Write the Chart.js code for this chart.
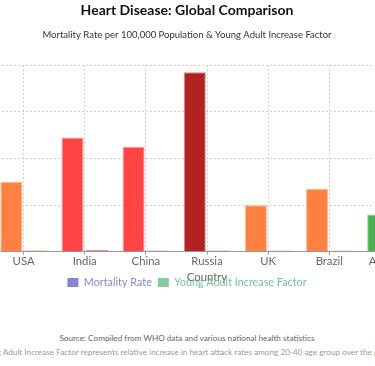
<!DOCTYPE html>
<html>
<head>
<meta charset="utf-8">
<script src="https://cdn.jsdelivr.net/npm/chart.js@4.4.1/dist/chart.umd.min.js"></script>
<style>
  html, body { margin: 0; padding: 0; background: #fff; width: 375px; height: 366px; overflow: hidden; }
  #wrap { position: absolute; left: -47px; top: 0; width: 468px; height: 366px; font-family: Lato, sans-serif; }
  #box { position: absolute; left: 0; top: 0; width: 468px; height: 298px; }
  .src { position: absolute; left: 0; width: 468px; text-align: center; font-size: 8.2px; line-height: 14px; white-space: nowrap; }
  #source { top: 331px; color: #666; }
  #note { top: 345px; color: #999; }
</style>
</head>
<body>
<div id="wrap">
  <div id="box"><canvas id="c"></canvas></div>
  <div class="src" id="source">Source: Compiled from WHO data and various national health statistics</div>
  <div class="src" id="note">Note: Young Adult Increase Factor represents relative increase in heart attack rates among 20-40 age group over the past decade</div>
</div>
<script>
// ---- data ----
const countries = ['USA', 'India', 'China', 'Russia', 'UK', 'Brazil', 'Australia'];
const mortalityRate = [150, 245, 225, 385, 100, 135, 80];
const youngAdultFactor = [3.2, 4.5, 3.0, 3.0, 2.8, 3.0, 2.6];
const yTicks = [0, 100, 200, 300, 400];

// ---- styles ----
function severityColor(v, alpha) {
  let rgb;
  if (v > 300) rgb = [178, 34, 34];
  else if (v > 200) rgb = [255, 68, 68];
  else if (v >= 100) rgb = [255, 128, 64];
  else rgb = [76, 175, 80];
  return `rgba(${rgb[0]},${rgb[1]},${rgb[2]},${alpha})`;
}
const FONT = 'Lato, sans-serif';

new Chart(document.getElementById('c'), {
  type: 'bar',
  data: {
    labels: countries,
    datasets: [
      {
        label: 'Mortality Rate',
        data: mortalityRate,
        backgroundColor: mortalityRate.map(v => severityColor(v, 1)),
        borderColor: mortalityRate.map(v => severityColor(v, 0.55)),
        borderWidth: 1
      },
      {
        label: 'Young Adult Increase Factor',
        data: youngAdultFactor,
        backgroundColor: mortalityRate.map(v => severityColor(v, 0.8)),
        borderColor: mortalityRate.map(v => severityColor(v, 0.7)),
        borderWidth: 1
      }
    ]
  },
  options: {
    responsive: true,
    maintainAspectRatio: false,
    animation: false,
    layout: { padding: 0 },
    plugins: {
      title: {
        display: true,
        text: 'Heart Disease: Global Comparison',
        color: '#111',
        font: { family: FONT, size: 14, weight: 'bold' },
        padding: { top: 2, bottom: 6 }
      },
      subtitle: {
        display: true,
        text: 'Mortality Rate per 100,000 Population & Young Adult Increase Factor',
        color: '#333',
        font: { family: FONT, size: 9.5 },
        padding: { top: 4, bottom: 25 }
      },
      legend: {
        position: 'bottom',
        labels: {
          font: { family: FONT, size: 10.8 },
          boxWidth: 11,
          boxHeight: 9,
          padding: 6,
          generateLabels: () => [
            { text: 'Mortality Rate', fillStyle: 'rgba(120,120,210,0.9)', strokeStyle: 'rgba(120,120,210,0.9)', lineWidth: 0, fontColor: 'rgba(120,120,215,0.9)', datasetIndex: 0 },
            { text: 'Young Adult Increase Factor', fillStyle: 'rgba(110,195,140,0.85)', strokeStyle: 'rgba(110,195,140,0.85)', lineWidth: 0, fontColor: 'rgba(100,190,135,0.9)', datasetIndex: 1 }
          ]
        }
      },
      tooltip: { enabled: false }
    },
    scales: {
      x: {
        grid: { offset: false, color: '#d0d0d0', tickLength: 3, tickColor: '#999', drawTicks: true },
        border: { color: '#999', dash: [2, 2] },
        ticks: { color: '#666', font: { family: FONT, size: 11.3 }, padding: 0 },
        title: { display: true, text: 'Country', color: '#666', font: { family: FONT, size: 11.3 }, padding: { top: 2.5, bottom: -13.2 } }
      },
      y: {
        min: 0,
        max: 400,
        afterFit: s => { s.width = 40; },
        afterBuildTicks: s => { s.ticks = yTicks.map(v => ({ value: v })); },
        grid: { color: '#d0d0d0', drawTicks: false },
        border: { color: '#999', dash: [2, 2] },
        ticks: { color: '#666', font: { family: FONT, size: 11 } }
      }
    }
  }
});
</script>
</body>
</html>
